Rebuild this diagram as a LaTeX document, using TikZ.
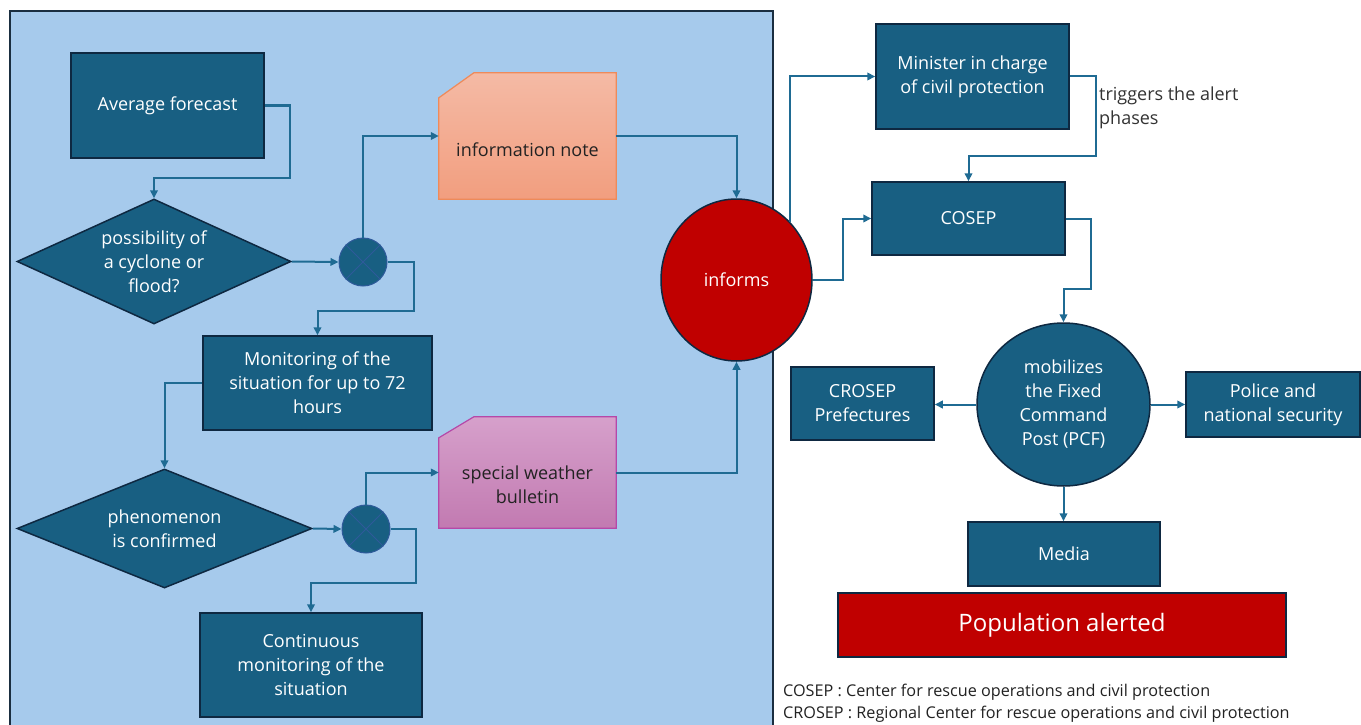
\documentclass[tikz,border=0pt]{standalone}
\usepackage{fontspec}
\setmainfont{Open Sans}
\usetikzlibrary{shapes.geometric,arrows.meta,calc}
\definecolor{panel}{HTML}{A6CAEC}
\definecolor{panelline}{HTML}{1A2E40}
\definecolor{boxfill}{HTML}{185F82}
\definecolor{boxline}{HTML}{0E2841}
\definecolor{connc}{HTML}{1F6B93}
\definecolor{alertred}{HTML}{C00000}
\definecolor{xline}{HTML}{2E5A9A}
\definecolor{notetop}{HTML}{F4BAA5}
\definecolor{notebot}{HTML}{F29E7F}
\definecolor{noteline}{HTML}{EE8A5A}
\definecolor{swbtop}{HTML}{D6A0CB}
\definecolor{swbbot}{HTML}{C27AB1}
\definecolor{swbline}{HTML}{B548A8}
\definecolor{darktext}{HTML}{222222}
\definecolor{greytext}{HTML}{333333}
\begin{document}
\begin{tikzpicture}[x=1pt,y=-1pt,
  txt/.style={font=\fontsize{18}{24}\selectfont, align=center},
  box/.style={txt, draw=boxline, fill=boxfill, line width=1.5pt, text=white, inner sep=0pt},
  dmd/.style={txt, diamond, draw=boxline, fill=boxfill, line width=1.5pt, text=white, inner sep=0pt},
  xnode/.style={circle, draw=xline, fill=boxfill, line width=1pt, minimum size=48pt, inner sep=0pt},
  xcross/.style={draw=xline, line width=1pt},
  ghost/.style={draw=none, fill=none, inner sep=0pt},
  conn/.style={draw=connc, line width=2pt, -{Triangle[length=8pt,width=7.5pt]}},
  redcirc/.style={txt, ellipse, draw=boxline, fill=alertred, line width=1.5pt, text=white, inner sep=0pt},
  bluecirc/.style={txt, ellipse, draw=boxline, fill=boxfill, line width=1.5pt, text=white, inner sep=0pt},
  legend/.style={font=\fontsize{16.2}{20}\selectfont, text=darktext, anchor=base west, inner sep=0pt},
]
\clip (0,0) rectangle (1361,725);
\fill[white] (0,0) rectangle (1361,725);
\draw[draw=panelline, fill=panel, line width=2pt] (10,11) rectangle (773,745);

% left part
\node[box, minimum width=193pt, minimum height=105pt] (avg) at (167.5,105.5) {Average forecast};
\node[dmd, shape aspect=2.2, minimum width=274pt, minimum height=125pt] (d1) at (154,261.5) {possibility of\\a cyclone or\\flood?};
\node[xnode] (x1) at (363,262) {};
\draw[xcross] (x1.north west) -- (x1.south east) (x1.north east) -- (x1.south west);

\node[ghost, minimum width=177pt, minimum height=126pt] (note) at (527.5,136) {};
\shade[top color=notetop, bottom color=notebot, draw=noteline, line width=1.2pt]
  ([yshift=-25pt]note.north west) -- ([xshift=35pt]note.north west) -- (note.north east)
  -- (note.south east) -- (note.south west) -- cycle;
\node[txt, text=darktext] (notetxt) at ([yshift=-14pt]note.center) {information note};

\node[box, minimum width=229pt, minimum height=94pt] (mon) at (317.5,383) {Monitoring of the\\situation for up to 72\\hours};
\node[dmd, shape aspect=2.48, minimum width=295pt, minimum height=119pt] (d2) at (164.5,528.5) {phenomenon\\is confirmed};
\node[xnode] (x2) at (366,529) {};
\draw[xcross] (x2.north west) -- (x2.south east) (x2.north east) -- (x2.south west);

\node[ghost, minimum width=177pt, minimum height=111pt] (swb) at (527.5,472.5) {};
\shade[top color=swbtop, bottom color=swbbot, draw=swbline, line width=1.2pt]
  ([yshift=-21pt]swb.north west) -- ([xshift=35pt]swb.north west) -- (swb.north east)
  -- (swb.south east) -- (swb.south west) -- cycle;
\node[txt, text=darktext] (swbtxt) at ([yshift=-12pt]swb.center) {special weather\\bulletin};

\node[box, minimum width=222pt, minimum height=104pt] (cont) at (311,665) {Continuous\\monitoring of the\\situation};

\node[redcirc, minimum width=151pt, minimum height=162pt] (inf) at (736.5,280) {informs};

% right part
\node[box, minimum width=193pt, minimum height=105pt] (mini) at (972.5,76.5) {Minister in charge\\of civil protection};
\node[txt, text=greytext, align=left, anchor=west, inner sep=0pt] (trig) at (1099,108) {triggers the alert\\phases};
\node[box, minimum width=193pt, minimum height=73pt] (cosep) at (968.5,218.5) {COSEP};
\node[bluecirc, minimum width=173pt, minimum height=163pt] (mob) at (1063.5,404.5) {mobilizes\\the Fixed\\Command\\Post (PCF)};
\node[box, minimum width=143pt, minimum height=73pt] (cros) at (862.5,403.5) {CROSEP\\Prefectures};
\node[box, minimum width=174pt, minimum height=65pt] (pol) at (1273,404.5) {Police and\\national security};
\node[box, minimum width=192pt, minimum height=64pt] (media) at (1064,554) {Media};
\node[box, fill=alertred, minimum width=448pt, minimum height=64pt, font=\fontsize{24}{28}\selectfont] (pop) at (1062,625) {Population alerted};

\node[legend] (leg1) at (783,696) {COSEP : Center for rescue operations and civil protection};
\node[legend] (leg2) at (783,718) {CROSEP : Regional Center for rescue operations and civil protection};

% connectors
\draw[conn] (avg.east) -| ++(25,72) -| (d1.north);
\draw[conn] (d1.east) -- (x1.west);
\draw[conn] (x1.north) |- (note.west);
\draw[conn] (x1.east) -| ++(26,49) -| (mon.north);
\draw[conn] (mon.west) -| (d2.north);
\draw[conn] (d2.east) -- (x2.west);
\draw[conn] (x2.north) |- (swb.west);
\draw[conn] (x2.east) -| ++(25,54) -| (cont.north);
\draw[conn] (note.east) -| (inf.north);
\draw[conn] (swb.east) -| (inf.south);
\draw[conn] (inf.north east) |- (mini.west);
\draw[conn] (inf.east) -- ++(30,0) |- (cosep.west);
\draw[conn] (mini.east) -| ++(26,79.5) -| (cosep.north);
\draw[conn] (cosep.east) -| ++(25,70.5) -| (mob.north);
\draw[conn] (mob.west) -- (mob.west -| cros.east);
\draw[conn] (mob.east) -- (pol.west);
\draw[conn] (mob.south) -- (mob.south |- media.north);
\end{tikzpicture}
\end{document}
